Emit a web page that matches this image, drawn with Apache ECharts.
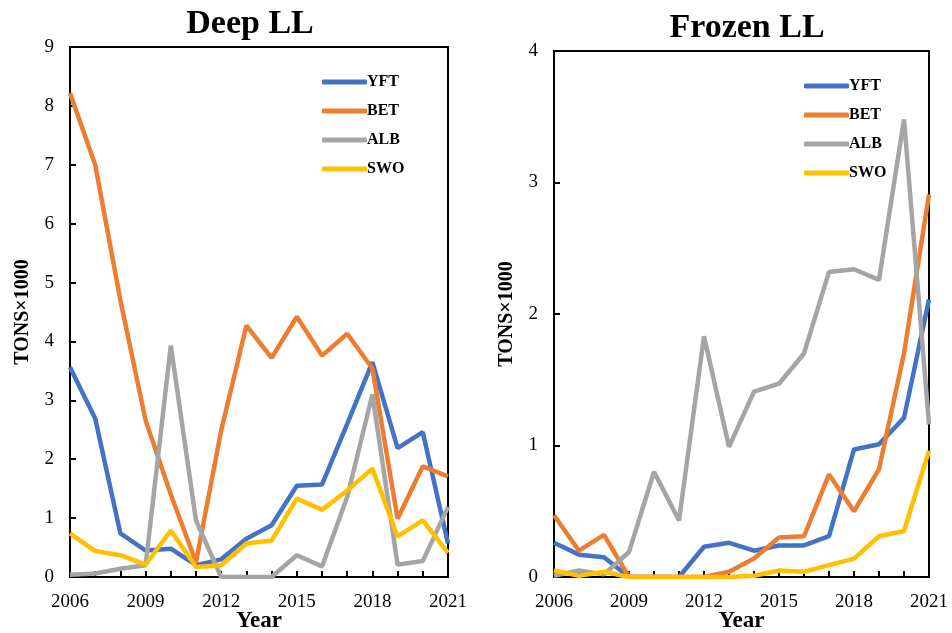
<!DOCTYPE html>
<html><head><meta charset="utf-8">
<script src="https://cdn.jsdelivr.net/npm/echarts@6/dist/echarts.min.js"></script>
<style>html,body{margin:0;padding:0;background:#fff}#c{width:952px;height:633px}</style>
</head><body><div id="c"></div>
<script>
const years = ['2006','2007','2008','2009','2010','2011','2012','2013','2014','2015','2016','2017','2018','2019','2020','2021'];
const speciesNames = ['YFT','BET','ALB','SWO'];
// Deep LL (tons x 1000)
const deepYFT = [3.56,2.69,0.74,0.45,0.48,0.2,0.3,0.65,0.88,1.55,1.57,2.6,3.65,2.19,2.46,0.57];
const deepBET = [8.22,7.0,4.7,2.66,1.4,0.25,2.49,4.27,3.72,4.42,3.76,4.13,3.54,0.99,1.88,1.71];
const deepALB = [0.04,0.06,0.14,0.2,3.93,0.96,0.0,0.0,0.0,0.37,0.18,1.36,3.1,0.21,0.27,1.19];
const deepSWO = [0.74,0.44,0.37,0.21,0.79,0.17,0.2,0.57,0.62,1.33,1.14,1.47,1.84,0.69,0.96,0.41];
// Frozen LL (tons x 1000)
const frozYFT = [0.26,0.17,0.15,0.0,0.0,0.0,0.23,0.26,0.2,0.24,0.24,0.31,0.97,1.01,1.21,2.11];
const frozBET = [0.47,0.2,0.32,0.0,0.0,0.0,0.0,0.04,0.14,0.3,0.31,0.78,0.5,0.82,1.7,2.91];
const frozALB = [0.01,0.05,0.02,0.19,0.8,0.43,1.83,0.99,1.41,1.47,1.7,2.32,2.34,2.26,3.48,1.16];
const frozSWO = [0.05,0.01,0.04,0.0,0.0,0.0,0.0,0.0,0.01,0.05,0.04,0.09,0.14,0.31,0.35,0.96];
const colors = ['#4472C4','#ED7D31','#A5A5A5','#FFC000'];

const serif = 'Liberation Serif';
const chart = echarts.init(document.getElementById('c'), null, {renderer:'canvas'});

function xAxis(gi){
  return {
    type:'category', gridIndex:gi, data:years, boundaryGap:false,
    name:'Year', nameLocation:'middle', nameGap:33, nameMoveOverlap:false,
    nameTextStyle:{fontFamily:serif,fontWeight:'bold',fontSize:23,color:'#000'},
    axisLine:{show:true,lineStyle:{color:'#000',width:2}},
    axisTick:{show:true,inside:true,interval:0,length:6,lineStyle:{color:'#000',width:2}},
    axisLabel:{interval:2,fontFamily:serif,fontSize:19,color:'#000',margin:16},
    splitLine:{show:false}
  };
}
function yAxis(gi,max){
  return {
    type:'value', gridIndex:gi, min:0, max:max, interval:1,
    name:'TONS×1000', nameLocation:'middle', nameGap:37,
    nameTextStyle:{fontFamily:serif,fontWeight:'bold',fontSize:20,color:'#000'},
    axisLine:{show:true,lineStyle:{color:'#000',width:2}},
    axisTick:{show:true,inside:true,length:6,lineStyle:{color:'#000',width:2}},
    axisLabel:{fontFamily:serif,fontSize:19,color:'#000',margin:16},
    splitLine:{show:false}
  };
}
function ser(name,data,gi,ci){
  return {type:'line',name:name,data:data,xAxisIndex:gi,yAxisIndex:gi,
    symbol:'none',lineStyle:{width:4.5,color:colors[ci]},itemStyle:{color:colors[ci]},
    emphasis:{disabled:true}};
}
function legend(left,top,seriesNames){
  return {orient:'vertical',left:left,top:top,itemWidth:45,itemHeight:5,itemGap:13,
    icon:'roundRect',data:seriesNames,
    textStyle:{fontFamily:serif,fontWeight:'bold',fontSize:16,color:'#000',padding:[0,0,0,-5]},
    selectedMode:false};
}
const deepSeries = [deepYFT,deepBET,deepALB,deepSWO];
const frozSeries = [frozYFT,frozBET,frozALB,frozSWO];
const series = [];
speciesNames.forEach((n,i)=>series.push(ser(n,deepSeries[i],0,i)));
speciesNames.forEach((n,i)=>series.push(ser(n+' ',frozSeries[i],1,i)));

chart.setOption({
  animation:false,
  title:[
    {text:'Deep LL',left:245,top:2,textAlign:'center',textStyle:{fontFamily:serif,fontWeight:'bold',fontSize:34,color:'#000'}},
    {text:'Frozen LL',left:742,top:6,textAlign:'center',textStyle:{fontFamily:serif,fontWeight:'bold',fontSize:34,color:'#000'}}
  ],
  grid:[
    {left:70,right:504,top:47,bottom:56,show:true,borderColor:'#000',borderWidth:2,containLabel:false,outerBoundsMode:'none'},
    {left:554,right:23,top:51,bottom:56,show:true,borderColor:'#000',borderWidth:2,containLabel:false,outerBoundsMode:'none'}
  ],
  xAxis:[xAxis(0),xAxis(1)],
  yAxis:[yAxis(0,9),yAxis(1,4)],
  legend:[
    legend(317,69,speciesNames),
    legend(799,73,speciesNames.map(n=>n+' '))
  ],
  series:series
});
</script></body></html>
